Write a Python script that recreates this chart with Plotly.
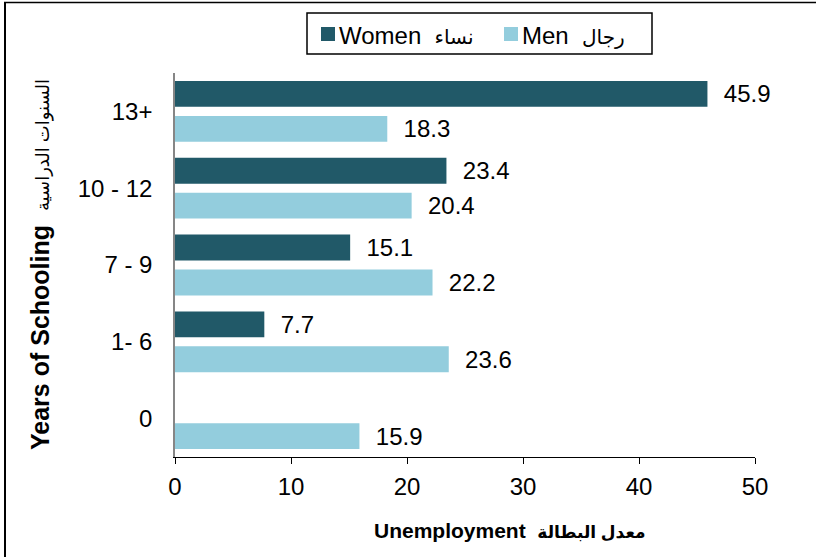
import plotly.graph_objects as go

categories = ["0", "1- 6", "7 - 9", "10 - 12", "13+"]
women = [None, 7.7, 15.1, 23.4, 45.9]
men = [15.9, 23.6, 22.2, 20.4, 18.3]
x_ticks = [0, 10, 20, 30, 40, 50]
women_name = "Women"
women_name_ar = "نساء"
men_name = "Men"
men_name_ar = "رجال"
x_title = "Unemployment"
x_title_ar = "معدل البطالة"
y_title = "Years of Schooling"
y_title_ar = "السنوات الدراسية"

WOMEN_C = "#215968"
MEN_C = "#93CDDD"

W, H = 816, 557
L, R, T, B = 175, 61, 73, 100
PW, PH = W - L - R, H - T - B

def px(p):
    return (p - L) / PW

def py(q):
    return (H - B - q) / PH

FONT = "Arial, 'Liberation Sans', 'DejaVu Sans', sans-serif"
SP = "\u00a0\u00a0"

def lab(v):
    return None if v is None else SP + f"{v:.1f}"

fig = go.Figure()
fig.add_trace(go.Bar(
    y=categories, x=men, orientation="h", name=f"{men_name}  {men_name_ar}",
    marker=dict(color=MEN_C, line=dict(width=0)),
    text=[lab(v) for v in men], textposition="outside",
    textfont=dict(size=24, color="black", family=FONT),
    constraintext="none", cliponaxis=False, hoverinfo="x+y", showlegend=False,
))
fig.add_trace(go.Bar(
    y=categories, x=women, orientation="h", name=f"{women_name}  {women_name_ar}",
    marker=dict(color=WOMEN_C, line=dict(width=0)),
    text=[lab(v) for v in women], textposition="outside",
    textfont=dict(size=24, color="black", family=FONT),
    constraintext="none", cliponaxis=False, hoverinfo="x+y", showlegend=False,
))

def rect(x0, y0, x1, y1, fill=None, line_color=None, lw=0):
    return dict(type="rect", xref="paper", yref="paper",
                x0=px(x0), x1=px(x1), y0=py(y0), y1=py(y1),
                fillcolor=fill if fill else "rgba(0,0,0,0)",
                line=dict(color=line_color if line_color else "rgba(0,0,0,0)", width=lw))

shapes = [
    # outer frame (top and left)
    dict(type="line", xref="paper", yref="paper",
         x0=px(4), x1=px(816), y0=py(2.5), y1=py(2.5),
         line=dict(color="black", width=1.5)),
    dict(type="line", xref="paper", yref="paper",
         x0=px(5), x1=px(5), y0=py(2), y1=py(557),
         line=dict(color="black", width=2)),
    # legend box and swatches
    rect(307, 13, 652, 54, fill="white", line_color="black", lw=1.5),
    rect(321, 27, 335, 41, fill=WOMEN_C),
    rect(504, 27, 518, 41, fill=MEN_C),
]

annotations = [
    dict(text=f"{women_name}  <span style='font-size:20px'>{women_name_ar}</span>",
         xref="paper", yref="paper", x=px(337), y=py(35), xanchor="left", yanchor="middle",
         showarrow=False, font=dict(size=24, family=FONT, color="black")),
    dict(text=f"{men_name}  <span style='font-size:20px'>{men_name_ar}</span>",
         xref="paper", yref="paper", x=px(520), y=py(35), xanchor="left", yanchor="middle",
         showarrow=False, font=dict(size=24, family=FONT, color="black")),
    dict(text=f"<b>{x_title}  <span style='font-size:17px'>{x_title_ar}</span></b>",
         xref="paper", yref="paper",
         x=px(510), y=py(530), xanchor="center", yanchor="middle",
         showarrow=False, font=dict(size=21, family=FONT, color="black")),
    dict(text=f"<b>{y_title}</b>  <span style='font-size:18px'>{y_title_ar}</span>",
         xref="paper", yref="paper",
         x=px(40), y=py(265), xanchor="center", yanchor="middle", textangle=-90,
         showarrow=False, font=dict(size=25, family=FONT, color="black")),
]

fig.update_layout(
    width=W, height=H,
    margin=dict(l=L, r=R, t=T, b=B, pad=0),
    paper_bgcolor="white", plot_bgcolor="white",
    font=dict(family=FONT, size=24, color="black"),
    barmode="group", bargap=0.09, bargroupgap=0.26,
    showlegend=False,
    xaxis=dict(
        range=[0, 50], tickvals=x_ticks, ticktext=[str(t) for t in x_ticks],
        showgrid=False, zeroline=False,
        showline=True, linecolor="black", linewidth=1,
        ticks="outside", ticklen=6, tickcolor="black", tickwidth=1,
        ticklabelstandoff=2,
        tickfont=dict(size=24, family=FONT),
        fixedrange=True,
    ),
    yaxis=dict(
        type="category", categoryorder="array", categoryarray=categories,
        showgrid=False, zeroline=False,
        showline=True, linecolor="#868686", linewidth=1.5,
        ticks="", ticklabelstandoff=16,
        tickfont=dict(size=24, family=FONT),
        fixedrange=True,
    ),
    annotations=annotations,
    shapes=shapes,
)

fig.write_html("out.html", config={"displayModeBar": False},
               post_script="document.body.style.margin='0';")
